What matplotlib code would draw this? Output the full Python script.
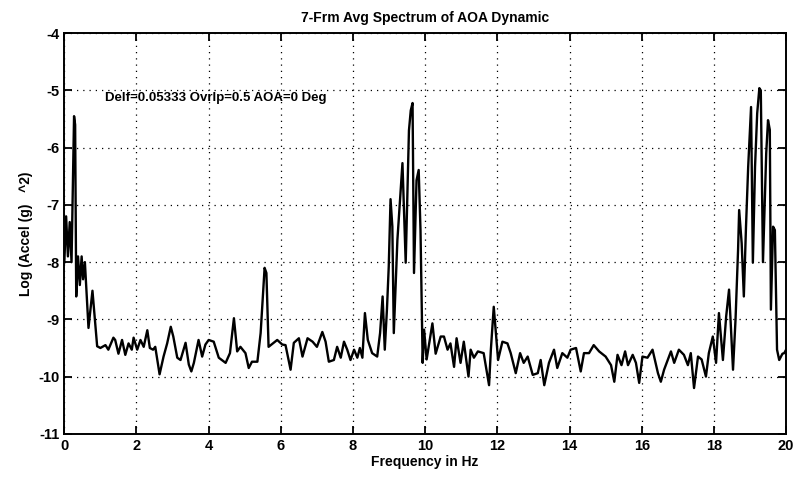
import matplotlib
matplotlib.use("Agg")
import matplotlib.pyplot as plt

# frequency (Hz) and log spectrum values
freq = [0.0, 0.05, 0.1, 0.15, 0.2, 0.27, 0.3, 0.33, 0.38, 0.43, 0.48, 0.52, 0.57,
        0.67, 0.78, 0.91, 1.0, 1.14, 1.22, 1.36, 1.41, 1.5, 1.6, 1.69, 1.78, 1.87,
        1.92, 2.02, 2.11, 2.2, 2.3, 2.37, 2.46, 2.52, 2.64, 2.75, 2.85, 2.95, 3.02,
        3.13, 3.22, 3.36, 3.45, 3.52, 3.59, 3.72, 3.82, 3.91, 4.0, 4.14, 4.28, 4.47,
        4.59, 4.7, 4.79, 4.88, 5.02, 5.11, 5.2, 5.35, 5.44, 5.55, 5.6, 5.66, 5.8,
        5.9, 6.04, 6.13, 6.27, 6.36, 6.5, 6.6, 6.74, 6.88, 7.0, 7.15, 7.24, 7.33,
        7.47, 7.56, 7.66, 7.75, 7.84, 7.93, 8.03, 8.12, 8.19, 8.26, 8.33, 8.41,
        8.53, 8.67, 8.75, 8.82, 8.88, 8.94, 8.99, 9.04, 9.09, 9.13, 9.23, 9.37,
        9.46, 9.55, 9.6, 9.65, 9.69, 9.76, 9.82, 9.87, 9.93, 9.97, 10.04, 10.2,
        10.29, 10.43, 10.52, 10.62, 10.7, 10.8, 10.87, 10.98, 11.07, 11.2, 11.26,
        11.35, 11.46, 11.62, 11.77, 11.82, 11.9, 12.02, 12.14, 12.28, 12.37, 12.51,
        12.63, 12.73, 12.84, 12.98, 13.12, 13.2, 13.3, 13.43, 13.57, 13.66, 13.8,
        13.94, 14.03, 14.18, 14.31, 14.4, 14.54, 14.67, 14.82, 15.0, 15.15, 15.24,
        15.33, 15.44, 15.54, 15.62, 15.75, 15.84, 15.93, 16.02, 16.16, 16.3, 16.45,
        16.53, 16.62, 16.72, 16.81, 16.9, 17.03, 17.17, 17.28, 17.36, 17.45, 17.56,
        17.66, 17.78, 17.86, 17.97, 18.06, 18.14, 18.25, 18.34, 18.42, 18.53,
        18.6, 18.67, 18.7, 18.77, 18.83, 18.89, 18.95, 19.03, 19.08, 19.14, 19.2,
        19.26, 19.3, 19.36, 19.45, 19.5, 19.55, 19.58, 19.64, 19.69, 19.75, 19.81,
        19.9, 19.95, 20.0]
log_accel = [-8.0, -7.2, -7.9, -7.3, -8.0, -5.45, -5.6, -8.6, -7.9, -8.4, -7.9, -8.3, -8.0,
             -9.15, -8.5, -9.47, -9.5, -9.45, -9.53, -9.32, -9.36, -9.6, -9.36, -9.62,
             -9.42, -9.53, -9.32, -9.53, -9.36, -9.48, -9.19, -9.5, -9.53, -9.48, -9.96,
             -9.65, -9.42, -9.13, -9.3, -9.67, -9.71, -9.41, -9.79, -9.91, -9.76, -9.36,
             -9.65, -9.44, -9.36, -9.39, -9.67, -9.76, -9.59, -8.98, -9.56, -9.48, -9.59,
             -9.85, -9.74, -9.74, -9.24, -8.1, -8.19, -9.48, -9.41, -9.36, -9.44, -9.45,
             -9.88, -9.41, -9.33, -9.65, -9.33, -9.39, -9.48, -9.22, -9.39, -9.74, -9.71,
             -9.48, -9.67, -9.39, -9.53, -9.71, -9.53, -9.67, -9.5, -9.67, -8.89, -9.36,
             -9.59, -9.65, -9.24, -8.6, -9.53, -8.83, -8.08, -6.9, -7.38, -9.24, -7.61,
             -6.27, -8.01, -5.7, -5.35, -5.22, -8.19, -6.57, -6.39, -7.44, -9.76, -9.18,
             -9.7, -9.07, -9.6, -9.3, -9.3, -9.53, -9.42, -9.83, -9.33, -9.76, -9.39,
             -10.0, -9.53, -9.67, -9.56, -9.59, -10.15, -9.53, -8.78, -9.71, -9.39,
             -9.42, -9.59, -9.94, -9.59, -9.76, -9.65, -9.97, -9.94, -9.71, -10.15,
             -9.76, -9.53, -9.85, -9.59, -9.67, -9.53, -9.5, -9.91, -9.59, -9.59, -9.45,
             -9.56, -9.65, -9.8, -10.09, -9.62, -9.8, -9.56, -9.8, -9.62, -9.76, -10.11,
             -9.65, -9.67, -9.53, -9.94, -10.09, -9.88, -9.71, -9.56, -9.76, -9.53,
             -9.62, -9.8, -9.59, -10.2, -9.65, -9.7, -10.0, -9.59, -9.3, -9.76, -8.89,
             -9.71, -8.95, -8.48, -9.88, -9.0, -7.79, -7.09, -7.67, -8.6, -7.38, -6.34,
             -5.29, -8.01, -6.34, -5.4, -4.96, -5.0, -8.0, -6.1, -5.52, -5.69, -8.83,
             -7.38, -7.44, -9.53, -9.71, -9.6, -9.59, -9.53]

x_ticks = [0, 2, 4, 6, 8, 10, 12, 14, 16, 18, 20]
y_ticks = [-11, -10, -9, -8, -7, -6, -5, -4]

plt.rcParams["font.family"] = ["Liberation Sans", "DejaVu Sans"]
plt.rcParams["font.weight"] = "bold"
plt.rcParams["axes.unicode_minus"] = False

fig = plt.figure(figsize=(7.94, 4.88), dpi=100)
ax = fig.add_axes([0.081, 0.111, 0.909, 0.821])

ax.plot(freq, log_accel, color="black", linewidth=1.7)

ax.set_xlim(0, 20)
ax.set_ylim(-11, -4)
ax.set_xticks(x_ticks)
ax.set_yticks(y_ticks)
ax.tick_params(direction="in", top=True, right=True, labelsize=10.5, length=6, width=1.3)
for lbl in ax.get_xticklabels() + ax.get_yticklabels():
    lbl.set_fontweight("bold")
ax.grid(True, color="black", linestyle=(0, (1, 4)), linewidth=0.9)
for s in ax.spines.values():
    s.set_linewidth(1.4)

ax.set_title("7-Frm Avg Spectrum of AOA Dynamic", fontsize=10, fontweight="bold", pad=8)
ax.set_xlabel("Frequency in Hz", fontsize=10, fontweight="bold", labelpad=2)
ax.set_ylabel("Log (Accel (g)   ^2)", fontsize=10, fontweight="bold", labelpad=4)
ax.text(1.14, -5.13, "Delf=0.05333 Ovrlp=0.5 AOA=0 Deg", fontsize=9.5,
        fontweight="bold", ha="left", va="center")

fig.savefig("out.png", dpi=100)
